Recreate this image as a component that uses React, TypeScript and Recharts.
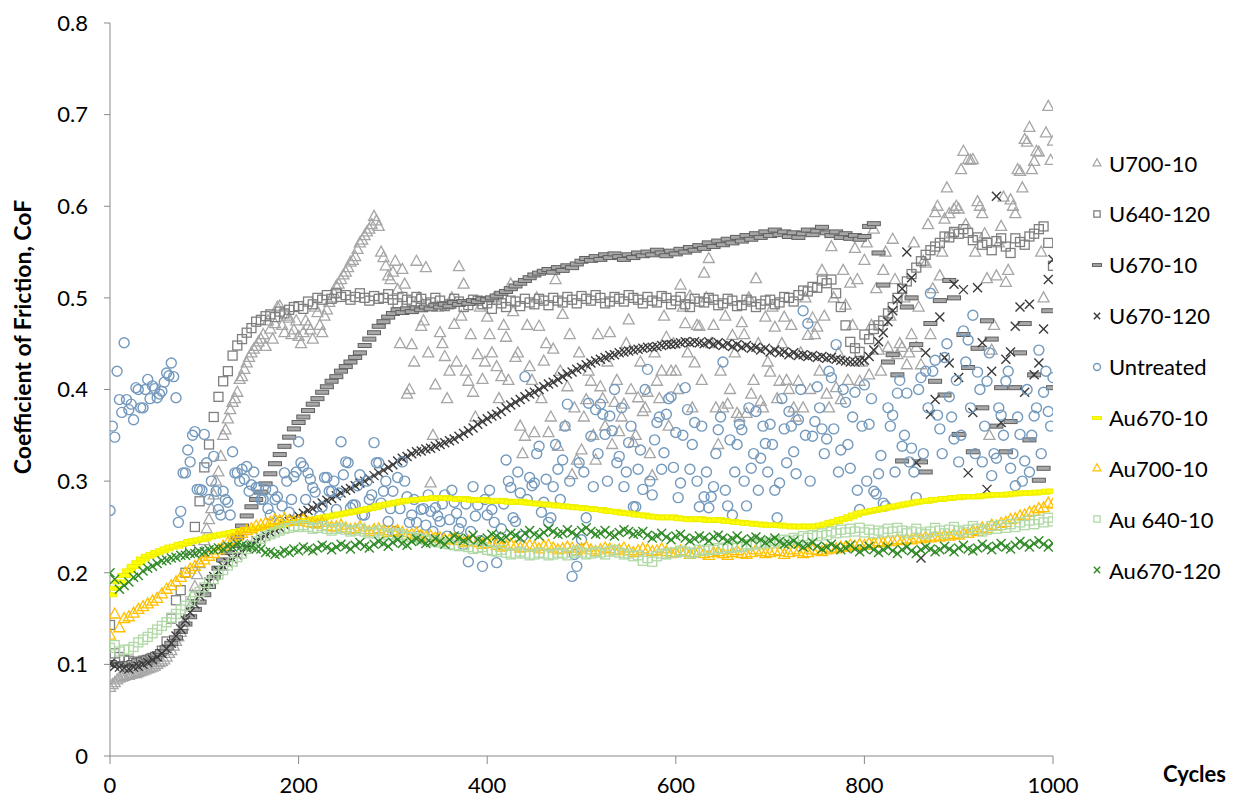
import React from 'react';
import { ScatterChart, Scatter, XAxis, YAxis } from 'recharts';

// sampling positions (cycles)
const cycles5 = [
  0, 5, 10, 15, 20, 25, 30, 35, 40, 45, 50, 55, 60, 65, 70, 75, 80, 85, 90, 95,
  100, 105, 110, 115, 120, 125, 130, 135, 140, 145, 150, 155, 160, 165, 170, 175, 180, 185, 190, 195,
  200, 205, 210, 215, 220, 225, 230, 235, 240, 245, 250, 255, 260, 265, 270, 275, 280, 285, 290, 295,
  300, 305, 310, 315, 320, 325, 330, 335, 340, 345, 350, 355, 360, 365, 370, 375, 380, 385, 390, 395,
  400, 405, 410, 415, 420, 425, 430, 435, 440, 445, 450, 455, 460, 465, 470, 475, 480, 485, 490, 495,
  500, 505, 510, 515, 520, 525, 530, 535, 540, 545, 550, 555, 560, 565, 570, 575, 580, 585, 590, 595,
  600, 605, 610, 615, 620, 625, 630, 635, 640, 645, 650, 655, 660, 665, 670, 675, 680, 685, 690, 695,
  700, 705, 710, 715, 720, 725, 730, 735, 740, 745, 750, 755, 760, 765, 770, 775, 780, 785, 790, 795,
  800, 805, 810, 815, 820, 825, 830, 835, 840, 845, 850, 855, 860, 865, 870, 875, 880, 885, 890, 895,
  900, 905, 910, 915, 920, 925, 930, 935, 940, 945, 950, 955, 960, 965, 970, 975, 980, 985, 990, 995,
  1000,
];

// in-between readings for the two scattered series
const cyclesMid = [
  2.5, 7.5, 12.5, 17.5, 22.5, 27.5, 32.5, 37.5, 42.5, 47.5, 52.5, 57.5, 62.5, 67.5, 72.5, 77.5, 82.5, 87.5, 92.5, 97.5,
  102.5, 107.5, 112.5, 117.5, 122.5, 127.5, 132.5, 137.5, 142.5, 147.5, 152.5, 157.5, 162.5, 167.5, 172.5, 177.5, 182.5, 187.5, 192.5, 197.5,
  202.5, 207.5, 212.5, 217.5, 222.5, 227.5, 232.5, 237.5, 242.5, 247.5, 252.5, 257.5, 262.5, 267.5, 272.5, 277.5, 282.5, 287.5, 292.5, 297.5,
  302.5, 307.5, 312.5, 317.5, 322.5, 327.5, 332.5, 337.5, 342.5, 347.5, 352.5, 357.5, 362.5, 367.5, 372.5, 377.5, 382.5, 387.5, 392.5, 397.5,
  402.5, 407.5, 412.5, 417.5, 422.5, 427.5, 432.5, 437.5, 442.5, 447.5, 452.5, 457.5, 462.5, 467.5, 472.5, 477.5, 482.5, 487.5, 492.5, 497.5,
  502.5, 507.5, 512.5, 517.5, 522.5, 527.5, 532.5, 537.5, 542.5, 547.5, 552.5, 557.5, 562.5, 567.5, 572.5, 577.5, 582.5, 587.5, 592.5, 597.5,
  602.5, 607.5, 612.5, 617.5, 622.5, 627.5, 632.5, 637.5, 642.5, 647.5, 652.5, 657.5, 662.5, 667.5, 672.5, 677.5, 682.5, 687.5, 692.5, 697.5,
  702.5, 707.5, 712.5, 717.5, 722.5, 727.5, 732.5, 737.5, 742.5, 747.5, 752.5, 757.5, 762.5, 767.5, 772.5, 777.5, 782.5, 787.5, 792.5, 797.5,
  802.5, 807.5, 812.5, 817.5, 822.5, 827.5, 832.5, 837.5, 842.5, 847.5, 852.5, 857.5, 862.5, 867.5, 872.5, 877.5, 882.5, 887.5, 892.5, 897.5,
  902.5, 907.5, 912.5, 917.5, 922.5, 927.5, 932.5, 937.5, 942.5, 947.5, 952.5, 957.5, 962.5, 967.5, 972.5, 977.5, 982.5, 987.5, 992.5, 997.5,
];

// CoF values
const u700_10 = [
  0.075, 0.080, 0.085, 0.087, 0.088, 0.090, 0.091, 0.093, 0.095, 0.097,
  0.100, 0.103, 0.108, 0.115, 0.125, 0.135, 0.148, 0.163, 0.185, 0.210,
  0.235, 0.258, 0.285, 0.310, 0.350, 0.368, 0.386, 0.397, 0.414, 0.429,
  0.440, 0.447, 0.455, 0.447, 0.466, 0.472, 0.491, 0.462, 0.478, 0.465,
  0.458, 0.462, 0.470, 0.455, 0.484, 0.462, 0.487, 0.500, 0.513, 0.520,
  0.528, 0.539, 0.545, 0.560, 0.568, 0.575, 0.589, 0.578, 0.544, 0.524,
  0.528, 0.509, 0.531, 0.395, 0.449, 0.540, 0.469, 0.533, 0.298, 0.405,
  0.462, 0.436, 0.420, 0.471, 0.534, 0.515, 0.409, 0.397, 0.438, 0.411,
  0.479, 0.440, 0.425, 0.414, 0.457, 0.515, 0.435, 0.360, 0.349, 0.425,
  0.353, 0.469, 0.431, 0.353, 0.444, 0.338, 0.482, 0.403, 0.307, 0.323,
  0.334, 0.389, 0.409, 0.323, 0.403, 0.360, 0.462, 0.386, 0.354, 0.384,
  0.476, 0.342, 0.391, 0.376, 0.397, 0.306, 0.409, 0.420, 0.457, 0.420,
  0.420, 0.514, 0.472, 0.502, 0.429, 0.469, 0.527, 0.543, 0.470, 0.340,
  0.380, 0.384, 0.459, 0.374, 0.473, 0.374, 0.395, 0.521, 0.387, 0.479,
  0.419, 0.468, 0.409, 0.479, 0.400, 0.380, 0.409, 0.380, 0.459, 0.478,
  0.468, 0.530, 0.395, 0.556, 0.402, 0.389, 0.492, 0.516, 0.554, 0.409,
  0.541, 0.416, 0.575, 0.443, 0.530, 0.446, 0.564, 0.438, 0.446, 0.427,
  0.460, 0.446, 0.427, 0.538, 0.460, 0.593, 0.524, 0.586, 0.592, 0.597,
  0.597, 0.660, 0.651, 0.651, 0.605, 0.592, 0.521, 0.443, 0.524, 0.578,
  0.517, 0.607, 0.592, 0.638, 0.673, 0.686, 0.649, 0.659, 0.500, 0.709,
  0.671,
];

const u700_10Mid = [
  0.078, 0.083, 0.086, 0.088, 0.089, 0.090, 0.092, 0.094, 0.096, 0.098, 0.102, 0.105, 0.112, 0.120, 0.130, 0.142, 0.155, 0.175, 0.198, 0.222,
  0.248, 0.270, 0.300, 0.327, 0.356, 0.378, 0.390, 0.411, 0.422, 0.435, 0.444, 0.452, 0.460, 0.475, 0.455, 0.490, 0.470, 0.480, 0.460, 0.475,
  0.450, 0.475, 0.465, 0.490, 0.470, 0.480, 0.495, 0.505, 0.515, 0.525, 0.533, 0.541, 0.553, 0.563, 0.572, 0.580, 0.584, 0.550, 0.535, 0.520,
  0.540, 0.450, 0.515, 0.400, 0.430, 0.500, 0.475, 0.440, 0.350, 0.490, 0.450, 0.390, 0.500, 0.430, 0.480, 0.420, 0.460, 0.370, 0.490, 0.430,
  0.460, 0.500, 0.390, 0.470, 0.410, 0.485, 0.440, 0.330, 0.470, 0.410, 0.500, 0.390, 0.450, 0.370, 0.520, 0.420, 0.360, 0.460, 0.380, 0.440,
  0.370, 0.420, 0.350, 0.460, 0.390, 0.430, 0.340, 0.410, 0.370, 0.450, 0.400, 0.350, 0.430, 0.380, 0.330, 0.440, 0.390, 0.480, 0.360, 0.450,
  0.400, 0.490, 0.440, 0.380, 0.470, 0.410, 0.500, 0.450, 0.380, 0.420, 0.480, 0.400, 0.440, 0.370, 0.460, 0.500, 0.410, 0.450, 0.380, 0.430,
  0.490, 0.390, 0.450, 0.410, 0.470, 0.370, 0.440, 0.500, 0.400, 0.460, 0.420, 0.480, 0.380, 0.500, 0.440, 0.530, 0.410, 0.470, 0.520, 0.430,
  0.560, 0.470, 0.510, 0.420, 0.550, 0.480, 0.520, 0.450, 0.500, 0.440, 0.560, 0.490, 0.540, 0.580, 0.510, 0.600, 0.550, 0.620, 0.570, 0.600,
  0.640, 0.580, 0.650, 0.550, 0.600, 0.570, 0.350, 0.470, 0.560, 0.610, 0.530, 0.600, 0.640, 0.620, 0.670, 0.640, 0.660, 0.550, 0.680, 0.650,
];

const u640_120 = [
  0.143, 0.112, 0.108, 0.105, 0.104, 0.102, 0.103, 0.104, 0.105, 0.107,
  0.109, 0.115, 0.125, 0.150, 0.170, 0.181, 0.200, 0.225, 0.250, 0.278,
  0.315, 0.340, 0.370, 0.392, 0.409, 0.420, 0.437, 0.448, 0.455, 0.462,
  0.467, 0.474, 0.476, 0.480, 0.482, 0.479, 0.485, 0.483, 0.487, 0.490,
  0.491, 0.488, 0.496, 0.493, 0.500, 0.498, 0.503, 0.499, 0.505, 0.501,
  0.503, 0.498, 0.501, 0.505, 0.500, 0.497, 0.502, 0.499, 0.500, 0.504,
  0.498, 0.494, 0.501, 0.498, 0.496, 0.501, 0.499, 0.493, 0.495, 0.500,
  0.497, 0.491, 0.493, 0.499, 0.496, 0.490, 0.492, 0.498, 0.497, 0.493,
  0.494, 0.488, 0.498, 0.494, 0.490, 0.497, 0.496, 0.491, 0.499, 0.495,
  0.493, 0.499, 0.497, 0.492, 0.500, 0.497, 0.495, 0.501, 0.498, 0.494,
  0.502, 0.499, 0.497, 0.503, 0.500, 0.494, 0.496, 0.501, 0.499, 0.496,
  0.503, 0.500, 0.498, 0.494, 0.501, 0.497, 0.495, 0.502, 0.500, 0.493,
  0.497, 0.501, 0.493, 0.490, 0.499, 0.496, 0.495, 0.500, 0.498, 0.492,
  0.494, 0.499, 0.497, 0.491, 0.492, 0.498, 0.496, 0.490, 0.493, 0.497,
  0.498, 0.493, 0.495, 0.501, 0.500, 0.496, 0.503, 0.508, 0.507, 0.512,
  0.511, 0.519, 0.516, 0.520, 0.505, 0.490, 0.470, 0.452, 0.445, 0.441,
  0.460, 0.455, 0.466, 0.470, 0.475, 0.483, 0.490, 0.500, 0.510, 0.518,
  0.526, 0.533, 0.540, 0.547, 0.552, 0.556, 0.560, 0.567, 0.566, 0.572,
  0.570, 0.575, 0.571, 0.563, 0.566, 0.558, 0.560, 0.552, 0.562, 0.565,
  0.556, 0.549, 0.565, 0.561, 0.558, 0.567, 0.570, 0.575, 0.578, 0.560,
  0.535,
];

const u670_10 = [
  0.102, 0.100, 0.099, 0.100, 0.101, 0.102, 0.104, 0.105, 0.107, 0.109,
  0.111, 0.114, 0.118, 0.123, 0.129, 0.136, 0.144, 0.152, 0.160, 0.168,
  0.176, 0.185, 0.195, 0.205, 0.214, 0.222, 0.230, 0.239, 0.251, 0.262,
  0.272, 0.280, 0.288, 0.297, 0.308, 0.319, 0.329, 0.338, 0.348, 0.357,
  0.364, 0.370, 0.377, 0.384, 0.390, 0.397, 0.403, 0.409, 0.414, 0.420,
  0.425, 0.430, 0.435, 0.440, 0.448, 0.455, 0.462, 0.469, 0.474, 0.479,
  0.483, 0.487, 0.484, 0.488, 0.485, 0.489, 0.487, 0.490, 0.488, 0.492,
  0.490, 0.493, 0.491, 0.495, 0.493, 0.496, 0.494, 0.497, 0.496, 0.499,
  0.498, 0.500, 0.502, 0.505, 0.507, 0.510, 0.513, 0.516, 0.519, 0.522,
  0.525, 0.527, 0.529, 0.531, 0.528, 0.533, 0.530, 0.535, 0.533, 0.537,
  0.540, 0.543, 0.541, 0.545, 0.542, 0.547, 0.544, 0.548, 0.545, 0.542,
  0.547, 0.544, 0.549, 0.546, 0.550, 0.547, 0.552, 0.549, 0.546, 0.551,
  0.548, 0.553, 0.550, 0.555, 0.552, 0.557, 0.554, 0.560, 0.556, 0.562,
  0.558, 0.564, 0.560, 0.566, 0.562, 0.568, 0.564, 0.570, 0.566, 0.572,
  0.568, 0.574, 0.569, 0.572, 0.567, 0.571, 0.566, 0.570, 0.574, 0.569,
  0.573, 0.577, 0.571, 0.568, 0.572, 0.566, 0.570, 0.565, 0.568, 0.564,
  0.567, 0.578, 0.581, 0.549, 0.514, 0.430, 0.438, 0.416, 0.322, 0.490,
  0.500, 0.449, 0.321, 0.310, 0.472, 0.409, 0.497, 0.394, 0.519, 0.500,
  0.351, 0.460, 0.424, 0.332, 0.445, 0.380, 0.475, 0.455, 0.360, 0.402,
  0.332, 0.365, 0.402, 0.440, 0.472, 0.345, 0.416, 0.301, 0.314, 0.486,
  0.402,
];

const u670_120 = [
  0.101, 0.098, 0.097, 0.096, 0.095, 0.097, 0.098, 0.100, 0.102, 0.105,
  0.108, 0.112, 0.117, 0.123, 0.131, 0.139, 0.148, 0.157, 0.166, 0.175,
  0.183, 0.190, 0.196, 0.202, 0.207, 0.211, 0.215, 0.219, 0.223, 0.227,
  0.231, 0.235, 0.238, 0.241, 0.244, 0.247, 0.249, 0.252, 0.256, 0.259,
  0.262, 0.265, 0.268, 0.270, 0.273, 0.276, 0.279, 0.281, 0.284, 0.287,
  0.290, 0.292, 0.295, 0.298, 0.300, 0.303, 0.306, 0.309, 0.312, 0.315,
  0.318, 0.322, 0.325, 0.327, 0.330, 0.332, 0.333, 0.335, 0.336, 0.338,
  0.340, 0.342, 0.344, 0.346, 0.349, 0.352, 0.355, 0.358, 0.362, 0.365,
  0.368, 0.371, 0.373, 0.376, 0.380, 0.383, 0.386, 0.389, 0.392, 0.395,
  0.397, 0.400, 0.403, 0.406, 0.408, 0.411, 0.414, 0.417, 0.419, 0.422,
  0.424, 0.427, 0.429, 0.431, 0.433, 0.435, 0.437, 0.438, 0.440, 0.441,
  0.442, 0.443, 0.444, 0.445, 0.446, 0.446, 0.447, 0.448, 0.449, 0.449,
  0.450, 0.451, 0.452, 0.451, 0.452, 0.451, 0.450, 0.452, 0.449, 0.451,
  0.448, 0.450, 0.447, 0.449, 0.446, 0.448, 0.445, 0.446, 0.443, 0.445,
  0.441, 0.443, 0.440, 0.441, 0.438, 0.440, 0.437, 0.438, 0.436, 0.437,
  0.435, 0.436, 0.434, 0.435, 0.433, 0.432, 0.431, 0.430, 0.430, 0.431,
  0.432, 0.436, 0.443, 0.452, 0.462, 0.474, 0.486, 0.498, 0.510, 0.550,
  0.522, 0.320, 0.216, 0.440, 0.373, 0.389, 0.479, 0.435, 0.429, 0.515,
  0.413, 0.509, 0.309, 0.375, 0.511, 0.451, 0.291, 0.420, 0.611, 0.364,
  0.433, 0.441, 0.469, 0.490, 0.397, 0.493, 0.416, 0.429, 0.466, 0.520,
  0.542,
];

const untreated = [
  0.268, 0.348, 0.389, 0.451, 0.378, 0.367, 0.400, 0.380, 0.411, 0.404,
  0.391, 0.398, 0.418, 0.429, 0.391, 0.267, 0.309, 0.321, 0.354, 0.291,
  0.351, 0.280, 0.327, 0.269, 0.289, 0.277, 0.332, 0.309, 0.313, 0.316,
  0.296, 0.293, 0.280, 0.291, 0.263, 0.280, 0.255, 0.309, 0.266, 0.305,
  0.343, 0.316, 0.309, 0.293, 0.255, 0.272, 0.304, 0.289, 0.269, 0.343,
  0.321, 0.271, 0.274, 0.307, 0.263, 0.280, 0.342, 0.320, 0.289, 0.256,
  0.289, 0.304, 0.321, 0.283, 0.263, 0.255, 0.269, 0.252, 0.267, 0.271,
  0.256, 0.285, 0.258, 0.277, 0.248, 0.231, 0.212, 0.294, 0.274, 0.207,
  0.263, 0.269, 0.211, 0.248, 0.323, 0.293, 0.256, 0.287, 0.414, 0.304,
  0.298, 0.338, 0.277, 0.255, 0.294, 0.313, 0.323, 0.384, 0.196, 0.207,
  0.236, 0.260, 0.349, 0.378, 0.384, 0.351, 0.371, 0.400, 0.327, 0.294,
  0.342, 0.272, 0.313, 0.291, 0.422, 0.285, 0.364, 0.313, 0.373, 0.392,
  0.353, 0.298, 0.402, 0.313, 0.364, 0.272, 0.283, 0.271, 0.294, 0.356,
  0.430, 0.273, 0.263, 0.340, 0.356, 0.273, 0.314, 0.376, 0.325, 0.341,
  0.362, 0.290, 0.298, 0.357, 0.376, 0.332, 0.367, 0.486, 0.472, 0.349,
  0.403, 0.357, 0.346, 0.413, 0.449, 0.334, 0.386, 0.314, 0.397, 0.269,
  0.405, 0.362, 0.289, 0.308, 0.276, 0.380, 0.372, 0.396, 0.338, 0.396,
  0.336, 0.282, 0.413, 0.420, 0.505, 0.432, 0.357, 0.435, 0.392, 0.346,
  0.321, 0.464, 0.454, 0.481, 0.419, 0.321, 0.409, 0.306, 0.325, 0.372,
  0.409, 0.314, 0.295, 0.351, 0.322, 0.310, 0.371, 0.443, 0.397, 0.376,
  0.413,
];

const untreatedMid = [
  0.360, 0.420, 0.375, 0.389, 0.384, 0.402, 0.380, 0.400, 0.390, 0.401, 0.395, 0.408, 0.415, 0.414, 0.255, 0.309, 0.334, 0.350, 0.291, 0.290,
  0.320, 0.300, 0.289, 0.263, 0.280, 0.263, 0.309, 0.300, 0.302, 0.289, 0.310, 0.293, 0.280, 0.270, 0.290, 0.283, 0.273, 0.300, 0.280, 0.310,
  0.320, 0.280, 0.302, 0.288, 0.262, 0.304, 0.289, 0.300, 0.287, 0.307, 0.320, 0.274, 0.295, 0.263, 0.300, 0.285, 0.320, 0.276, 0.300, 0.270,
  0.245, 0.270, 0.300, 0.255, 0.280, 0.240, 0.270, 0.285, 0.245, 0.262, 0.275, 0.240, 0.290, 0.265, 0.255, 0.275, 0.245, 0.262, 0.235, 0.280,
  0.290, 0.255, 0.232, 0.275, 0.300, 0.260, 0.310, 0.240, 0.280, 0.295, 0.330, 0.266, 0.302, 0.260, 0.340, 0.280, 0.360, 0.300, 0.220, 0.320,
  0.310, 0.385, 0.294, 0.330, 0.373, 0.300, 0.355, 0.320, 0.380, 0.310, 0.360, 0.272, 0.334, 0.400, 0.300, 0.345, 0.370, 0.331, 0.390, 0.315,
  0.282, 0.350, 0.378, 0.340, 0.300, 0.360, 0.310, 0.283, 0.330, 0.370, 0.290, 0.345, 0.310, 0.362, 0.300, 0.380, 0.330, 0.290, 0.360, 0.310,
  0.340, 0.260, 0.390, 0.320, 0.360, 0.308, 0.400, 0.350, 0.300, 0.365, 0.380, 0.330, 0.420, 0.357, 0.310, 0.400, 0.340, 0.370, 0.290, 0.360,
  0.300, 0.390, 0.286, 0.328, 0.273, 0.360, 0.310, 0.410, 0.350, 0.321, 0.310, 0.400, 0.330, 0.380, 0.420, 0.372, 0.330, 0.450, 0.370, 0.410,
  0.350, 0.430, 0.380, 0.330, 0.400, 0.360, 0.440, 0.330, 0.380, 0.350, 0.420, 0.330, 0.370, 0.300, 0.400, 0.350, 0.380, 0.330, 0.420, 0.360,
];

const au670_10 = [
  0.176, 0.183, 0.190, 0.197, 0.202, 0.207, 0.211, 0.215, 0.218, 0.220,
  0.222, 0.224, 0.226, 0.228, 0.229, 0.231, 0.232, 0.234, 0.235, 0.236,
  0.237, 0.239, 0.240, 0.241, 0.242, 0.243, 0.244, 0.245, 0.246, 0.247,
  0.247, 0.248, 0.249, 0.250, 0.250, 0.251, 0.252, 0.253, 0.254, 0.255,
  0.256, 0.256, 0.257, 0.258, 0.259, 0.260, 0.261, 0.262, 0.263, 0.264,
  0.265, 0.266, 0.267, 0.268, 0.269, 0.270, 0.271, 0.273, 0.274, 0.275,
  0.276, 0.277, 0.278, 0.279, 0.279, 0.280, 0.280, 0.281, 0.281, 0.282,
  0.281, 0.282, 0.281, 0.281, 0.280, 0.281, 0.280, 0.279, 0.279, 0.280,
  0.279, 0.278, 0.278, 0.279, 0.278, 0.277, 0.277, 0.278, 0.277, 0.276,
  0.276, 0.275, 0.275, 0.274, 0.274, 0.273, 0.273, 0.272, 0.272, 0.271,
  0.271, 0.270, 0.270, 0.269, 0.269, 0.268, 0.267, 0.267, 0.266, 0.265,
  0.265, 0.264, 0.263, 0.263, 0.262, 0.261, 0.261, 0.260, 0.260, 0.261,
  0.260, 0.259, 0.259, 0.258, 0.258, 0.259, 0.258, 0.257, 0.257, 0.258,
  0.257, 0.256, 0.256, 0.255, 0.255, 0.254, 0.254, 0.253, 0.253, 0.252,
  0.252, 0.252, 0.252, 0.251, 0.251, 0.250, 0.251, 0.250, 0.251, 0.250,
  0.251, 0.252, 0.253, 0.255, 0.256, 0.258, 0.259, 0.261, 0.263, 0.265,
  0.266, 0.267, 0.268, 0.269, 0.270, 0.271, 0.272, 0.273, 0.274, 0.275,
  0.276, 0.277, 0.278, 0.278, 0.279, 0.280, 0.280, 0.281, 0.281, 0.282,
  0.282, 0.283, 0.283, 0.283, 0.283, 0.284, 0.284, 0.285, 0.285, 0.285,
  0.285, 0.286, 0.286, 0.287, 0.287, 0.287, 0.287, 0.288, 0.288, 0.289,
  0.289,
];

const au700_10 = [
  0.132, 0.155, 0.140, 0.150, 0.152, 0.156, 0.160, 0.163, 0.166, 0.169,
  0.172, 0.177, 0.182, 0.186, 0.190, 0.195, 0.200, 0.204, 0.207, 0.211,
  0.214, 0.218, 0.221, 0.225, 0.229, 0.233, 0.236, 0.240, 0.243, 0.246,
  0.248, 0.251, 0.252, 0.254, 0.255, 0.258, 0.257, 0.259, 0.257, 0.256,
  0.256, 0.258, 0.255, 0.254, 0.253, 0.255, 0.251, 0.250, 0.250, 0.252,
  0.249, 0.247, 0.248, 0.250, 0.247, 0.245, 0.247, 0.248, 0.246, 0.244,
  0.245, 0.246, 0.244, 0.241, 0.242, 0.243, 0.241, 0.239, 0.240, 0.238,
  0.238, 0.236, 0.236, 0.237, 0.235, 0.233, 0.234, 0.235, 0.233, 0.231,
  0.232, 0.233, 0.230, 0.228, 0.229, 0.231, 0.229, 0.227, 0.228, 0.230,
  0.228, 0.226, 0.229, 0.230, 0.227, 0.225, 0.226, 0.228, 0.227, 0.224,
  0.226, 0.228, 0.225, 0.223, 0.225, 0.227, 0.226, 0.224, 0.225, 0.227,
  0.224, 0.222, 0.224, 0.226, 0.225, 0.223, 0.224, 0.226, 0.223, 0.221,
  0.222, 0.224, 0.223, 0.220, 0.222, 0.224, 0.221, 0.219, 0.222, 0.223,
  0.221, 0.219, 0.222, 0.224, 0.221, 0.220, 0.222, 0.225, 0.223, 0.221,
  0.222, 0.224, 0.223, 0.220, 0.222, 0.225, 0.223, 0.221, 0.222, 0.225,
  0.224, 0.223, 0.225, 0.227, 0.226, 0.228, 0.228, 0.230, 0.229, 0.231,
  0.230, 0.232, 0.232, 0.234, 0.233, 0.235, 0.234, 0.236, 0.235, 0.237,
  0.236, 0.238, 0.237, 0.239, 0.238, 0.240, 0.239, 0.241, 0.240, 0.242,
  0.241, 0.243, 0.243, 0.246, 0.245, 0.249, 0.248, 0.252, 0.251, 0.254,
  0.255, 0.258, 0.259, 0.262, 0.263, 0.266, 0.267, 0.270, 0.271, 0.276,
  0.275,
];

const au640_10 = [
  0.118, 0.121, 0.114, 0.116, 0.116, 0.119, 0.124, 0.127, 0.130, 0.134,
  0.138, 0.142, 0.146, 0.151, 0.155, 0.160, 0.164, 0.169, 0.174, 0.179,
  0.184, 0.189, 0.193, 0.198, 0.203, 0.208, 0.212, 0.217, 0.221, 0.226,
  0.230, 0.234, 0.237, 0.240, 0.242, 0.244, 0.246, 0.248, 0.249, 0.251,
  0.250, 0.252, 0.250, 0.248, 0.249, 0.251, 0.248, 0.246, 0.248, 0.249,
  0.247, 0.245, 0.246, 0.248, 0.245, 0.243, 0.244, 0.246, 0.243, 0.241,
  0.242, 0.243, 0.241, 0.239, 0.239, 0.238, 0.237, 0.236, 0.235, 0.234,
  0.233, 0.232, 0.231, 0.230, 0.229, 0.230, 0.228, 0.226, 0.227, 0.228,
  0.225, 0.224, 0.223, 0.225, 0.222, 0.220, 0.221, 0.223, 0.221, 0.219,
  0.220, 0.222, 0.221, 0.219, 0.220, 0.222, 0.221, 0.219, 0.222, 0.224,
  0.222, 0.220, 0.221, 0.223, 0.222, 0.220, 0.223, 0.225, 0.222, 0.220,
  0.221, 0.218, 0.219, 0.213, 0.216, 0.212, 0.218, 0.221, 0.220, 0.222,
  0.222, 0.224, 0.223, 0.221, 0.222, 0.225, 0.224, 0.226, 0.225, 0.227,
  0.226, 0.228, 0.227, 0.229, 0.228, 0.231, 0.230, 0.232, 0.231, 0.233,
  0.232, 0.235, 0.233, 0.236, 0.235, 0.238, 0.236, 0.240, 0.238, 0.241,
  0.240, 0.243, 0.241, 0.245, 0.243, 0.247, 0.244, 0.248, 0.245, 0.249,
  0.244, 0.247, 0.243, 0.246, 0.244, 0.248, 0.245, 0.249, 0.246, 0.243,
  0.245, 0.248, 0.244, 0.242, 0.245, 0.249, 0.246, 0.243, 0.247, 0.250,
  0.246, 0.244, 0.247, 0.251, 0.248, 0.245, 0.247, 0.251, 0.248, 0.252,
  0.249, 0.253, 0.250, 0.255, 0.252, 0.257, 0.253, 0.258, 0.255, 0.260,
  0.256,
];

const au670_120 = [
  0.200, 0.193, 0.182, 0.186, 0.190, 0.195, 0.197, 0.202, 0.205, 0.207,
  0.210, 0.213, 0.214, 0.216, 0.217, 0.219, 0.219, 0.221, 0.221, 0.223,
  0.223, 0.225, 0.225, 0.227, 0.226, 0.229, 0.228, 0.231, 0.230, 0.229,
  0.228, 0.226, 0.226, 0.222, 0.223, 0.220, 0.221, 0.224, 0.222, 0.226,
  0.224, 0.228, 0.226, 0.224, 0.227, 0.230, 0.228, 0.225, 0.228, 0.231,
  0.229, 0.226, 0.230, 0.233, 0.229, 0.227, 0.231, 0.234, 0.232, 0.229,
  0.233, 0.236, 0.232, 0.230, 0.234, 0.237, 0.235, 0.232, 0.233, 0.237,
  0.234, 0.231, 0.236, 0.240, 0.238, 0.235, 0.237, 0.241, 0.236, 0.234,
  0.238, 0.242, 0.240, 0.237, 0.239, 0.243, 0.241, 0.238, 0.243, 0.246,
  0.242, 0.240, 0.244, 0.248, 0.245, 0.242, 0.243, 0.247, 0.244, 0.241,
  0.246, 0.249, 0.245, 0.242, 0.243, 0.246, 0.242, 0.240, 0.244, 0.247,
  0.245, 0.242, 0.243, 0.245, 0.241, 0.238, 0.240, 0.243, 0.239, 0.236,
  0.240, 0.242, 0.238, 0.235, 0.237, 0.240, 0.238, 0.235, 0.239, 0.241,
  0.238, 0.235, 0.237, 0.240, 0.236, 0.233, 0.237, 0.239, 0.236, 0.233,
  0.235, 0.238, 0.234, 0.231, 0.232, 0.235, 0.231, 0.228, 0.230, 0.233,
  0.229, 0.226, 0.228, 0.231, 0.228, 0.225, 0.227, 0.230, 0.226, 0.223,
  0.226, 0.229, 0.225, 0.222, 0.225, 0.228, 0.224, 0.221, 0.225, 0.228,
  0.224, 0.221, 0.225, 0.228, 0.226, 0.223, 0.225, 0.229, 0.226, 0.223,
  0.227, 0.230, 0.226, 0.224, 0.227, 0.231, 0.228, 0.225, 0.229, 0.232,
  0.228, 0.226, 0.230, 0.234, 0.231, 0.228, 0.232, 0.235, 0.231, 0.228,
  0.232,
];

const xTicks = [0, 200, 400, 600, 800, 1000];
const yTicks = [0, 0.1, 0.2, 0.3, 0.4, 0.5, 0.6, 0.7, 0.8];
const yTickLabels = ['0', '0.1', '0.2', '0.3', '0.4', '0.5', '0.6', '0.7', '0.8'];

const FONT = 'Lato, "Liberation Sans", sans-serif';
const AXIS = '#898989';

const toPoints = (xs: number[], ys: number[]) => ys.map((y, i) => ({ x: xs[i], y }));

type Kind = 'triangle' | 'square' | 'dash' | 'cross' | 'circle';

function Marker({ kind, cx, cy, stroke, fill, s = 1 }: { kind: Kind; cx: number; cy: number; stroke: string; fill?: string; s?: number }) {
  if (kind === 'triangle') {
    return (
      <polygon
        points={`${cx},${cy - 6 * s} ${cx - 5.5 * s},${cy + 4 * s} ${cx + 5.5 * s},${cy + 4 * s}`}
        fill="none"
        stroke={stroke}
        strokeWidth={1.3}
      />
    );
  }
  if (kind === 'square') {
    return <rect x={cx - 4.5 * s} y={cy - 4.5 * s} width={9 * s} height={9 * s} fill="none" stroke={stroke} strokeWidth={1.3} />;
  }
  if (kind === 'dash') {
    return <rect x={cx - 6.5 * s} y={cy - 2 * s} width={13 * s} height={4 * s} fill={fill} stroke={stroke} strokeWidth={1} />;
  }
  if (kind === 'cross') {
    const d = 4.5 * s;
    return (
      <g stroke={stroke} strokeWidth={1.4}>
        <line x1={cx - d} y1={cy - d} x2={cx + d} y2={cy + d} />
        <line x1={cx - d} y1={cy + d} x2={cx + d} y2={cy - d} />
      </g>
    );
  }
  return <circle cx={cx} cy={cy} r={5 * s} fill="none" stroke={stroke} strokeWidth={1.4} />;
}

const series = [
  { name: 'U700-10', data: [...toPoints(cycles5, u700_10), ...toPoints(cyclesMid, u700_10Mid)], kind: 'triangle' as Kind, stroke: '#a6a6a6' },
  { name: 'U640-120', data: toPoints(cycles5, u640_120), kind: 'square' as Kind, stroke: '#7f7f7f' },
  { name: 'U670-10', data: toPoints(cycles5, u670_10), kind: 'dash' as Kind, stroke: '#5f5f5f', fill: '#a8a8a8' },
  { name: 'U670-120', data: toPoints(cycles5, u670_120), kind: 'cross' as Kind, stroke: '#3a3a3a' },
  { name: 'Untreated', data: [...toPoints(cycles5, untreated), ...toPoints(cyclesMid, untreatedMid)], kind: 'circle' as Kind, stroke: '#7399bd' },
  { name: 'Au670-10', data: toPoints(cycles5, au670_10), kind: 'dash' as Kind, stroke: '#eeee00', fill: '#ffff00' },
  { name: 'Au700-10', data: toPoints(cycles5, au700_10), kind: 'triangle' as Kind, stroke: '#ffc000' },
  { name: 'Au 640-10', data: toPoints(cycles5, au640_10), kind: 'square' as Kind, stroke: '#b0d9a6' },
  { name: 'Au670-120', data: toPoints(cycles5, au670_120), kind: 'cross' as Kind, stroke: '#2f8a26' },
];

export default function App() {
  return (
    <div style={{ position: 'absolute', left: 0, top: 0, width: 1241, height: 800, background: '#fff', fontFamily: FONT }}>
      <ScatterChart width={1241} height={800} margin={{ top: 23, right: 188, bottom: 0, left: 0 }}>
        <XAxis
          type="number"
          dataKey="x"
          domain={[0, 1000]}
          ticks={xTicks}
          height={44}
          tickSize={8}
          tickMargin={13}
          axisLine={{ stroke: AXIS }}
          tickLine={{ stroke: AXIS }}
          tick={{ fill: '#000', fontSize: 22, fontFamily: FONT }}
          allowDataOverflow
        />
        <YAxis
          type="number"
          dataKey="y"
          domain={[0, 0.8]}
          ticks={yTicks}
          width={110}
          tickSize={6}
          tickMargin={16}
          axisLine={{ stroke: AXIS }}
          tickLine={{ stroke: AXIS }}
          tick={{ fill: '#000', fontSize: 22, fontFamily: FONT }}
          tickFormatter={(v: number) => yTickLabels[yTicks.indexOf(v)] ?? String(v)}
          allowDataOverflow
        />
        {series.map((s) => (
          <Scatter
            key={s.name}
            name={s.name}
            data={s.data}
            isAnimationActive={false}
            shape={(p: any) => <Marker kind={s.kind} cx={p.cx} cy={p.cy} stroke={s.stroke} fill={s.fill} />}
          />
        ))}
      </ScatterChart>

      {/* legend */}
      {series.map((s, i) => (
        <div
          key={s.name}
          style={{ position: 'absolute', left: 1088, top: 163 + i * 50.9 - 13, height: 26, display: 'flex', alignItems: 'center' }}
        >
          <svg width={18} height={14} style={{ marginRight: 3 }}>
            <Marker kind={s.kind} cx={9} cy={7} stroke={s.stroke} fill={s.fill} s={0.7} />
          </svg>
          <span style={{ fontSize: 22, color: '#000', whiteSpace: 'nowrap' }}>{s.name}</span>
        </div>
      ))}

      {/* axis titles */}
      <div
        style={{
          position: 'absolute',
          left: 22,
          top: 337,
          transform: 'translate(-50%, -50%) rotate(-90deg)',
          fontWeight: 700,
          fontSize: 23,
          whiteSpace: 'nowrap',
        }}
      >
        Coefficient of Friction, CoF
      </div>
      <div style={{ position: 'absolute', left: 1163, top: 760, fontWeight: 700, fontSize: 22 }}>Cycles</div>
    </div>
  );
}
